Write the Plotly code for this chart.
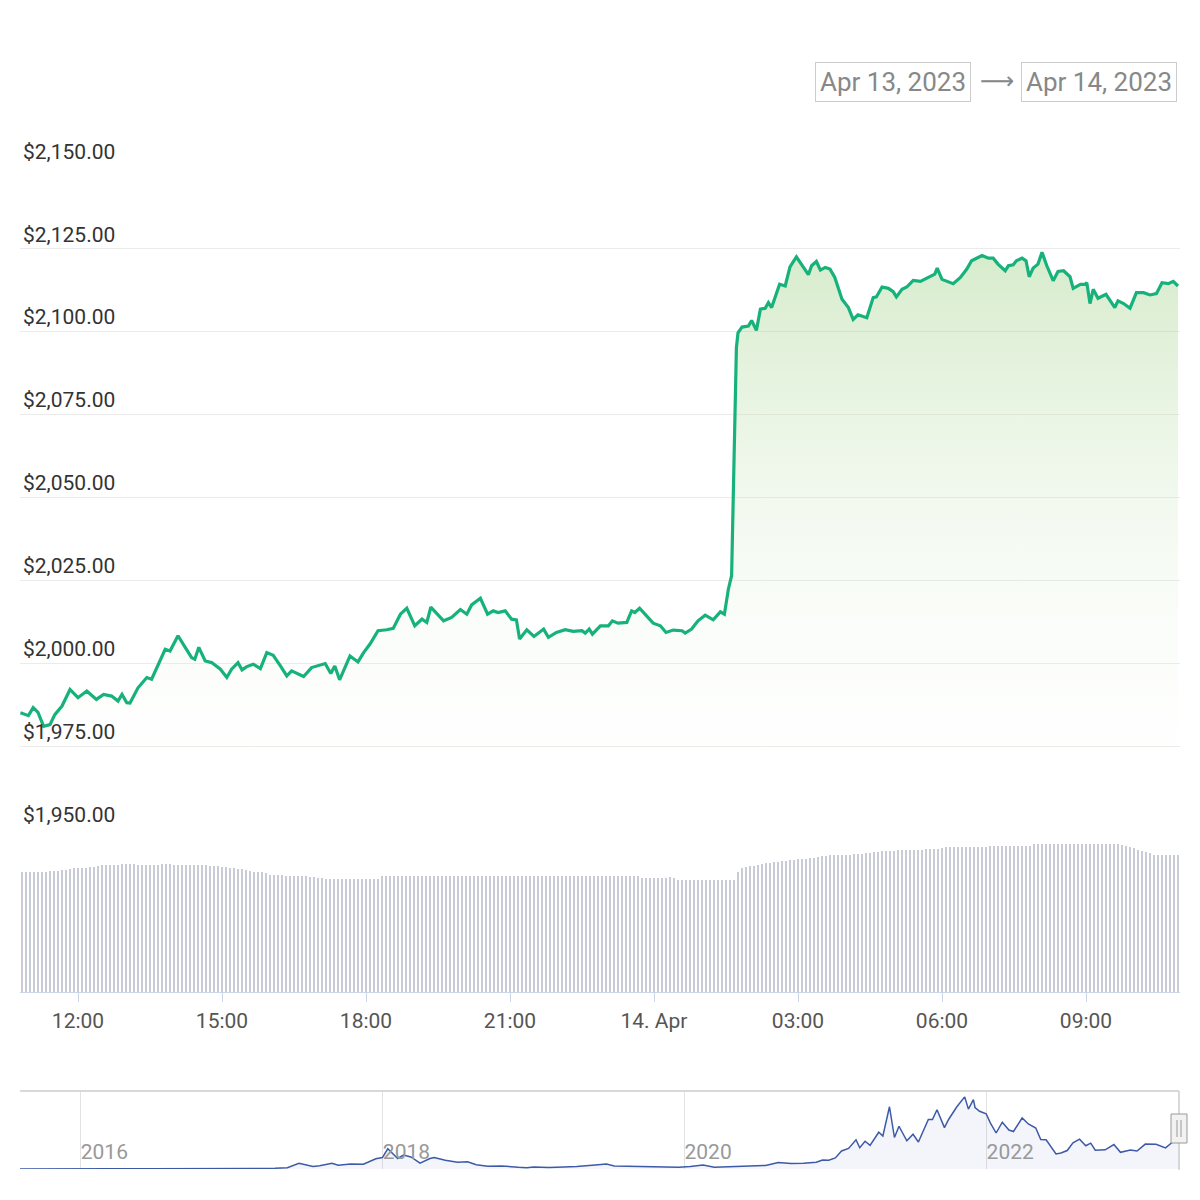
import pandas as pd
import plotly.graph_objects as go

# ---------------- data ----------------
times_apr13 = [
    "10:48", "10:58", "11:04", "11:10", "11:17", "11:25", "11:31", "11:40", "11:50", "12:00",
    "12:11", "12:23", "12:32", "12:42", "12:50", "12:55", "13:01", "13:05", "13:15", "13:26",
    "13:32", "13:40", "13:49", "13:55", "14:05", "14:14", "14:22", "14:26", "14:31", "14:39",
    "14:47", "14:58", "15:06", "15:12", "15:20", "15:25", "15:31", "15:39", "15:48", "15:56",
    "16:04", "16:13", "16:21", "16:27", "16:42", "16:52", "17:09", "17:16", "17:21", "17:27",
    "17:40", "17:50", "17:57", "18:05", "18:15", "18:26", "18:34", "18:43", "18:51", "19:01",
    "19:10", "19:16", "19:21", "19:37", "19:47", "19:58", "20:06", "20:12", "20:23", "20:32",
    "20:39", "20:45", "20:54", "21:02", "21:08", "21:12", "21:21", "21:30", "21:42", "21:48",
    "21:58", "22:09", "22:19", "22:30", "22:34", "22:39", "22:43", "22:53", "23:03", "23:08",
    "23:15", "23:26", "23:32", "23:36", "23:42", "23:51", "23:59",
]
prices_apr13 = [
    1985.1, 1984.2, 1986.6, 1985.2, 1981.0, 1981.5, 1984.5, 1987.1, 1992.1, 1989.6,
    1991.6, 1989.1, 1990.6, 1990.1, 1988.6, 1990.6, 1988.1, 1988.0, 1992.6, 1995.7,
    1995.2, 1999.7, 2004.2, 2003.7, 2008.3, 2004.8, 2001.7, 2001.2, 2004.8, 2000.7,
    2000.2, 1998.2, 1995.7, 1998.2, 2000.2, 1998.0, 1999.0, 1999.7, 1998.4, 2003.2,
    2002.4, 1999.2, 1996.2, 1997.7, 1996.0, 1998.7, 1999.9, 1996.9, 1999.2, 1995.0,
    2002.2, 2000.4, 2003.2, 2005.8, 2009.8, 2010.1, 2010.5, 2014.8, 2016.6, 2011.3,
    2013.3, 2012.3, 2016.9, 2012.8, 2013.8, 2016.2, 2014.8, 2017.6, 2019.6, 2014.8,
    2015.8, 2015.3, 2015.8, 2013.3, 2013.1, 2007.3, 2010.1, 2008.1, 2010.3, 2007.8,
    2009.3, 2010.1, 2009.6, 2009.8, 2009.1, 2010.3, 2008.8, 2011.3, 2011.3, 2012.8,
    2012.1, 2012.3, 2015.8, 2015.3, 2016.6, 2014.2, 2012.1,
]
times_apr14 = [
    "00:08", "00:15", "00:24", "00:35", "00:39", "00:47", "00:55", "01:04", "01:14", "01:23",
    "01:28", "01:33", "01:37", "01:43", "01:45", "01:50", "01:58", "02:02", "02:08", "02:13",
    "02:19", "02:23", "02:27", "02:37", "02:44", "02:50", "02:58", "03:05", "03:13", "03:17",
    "03:23", "03:28", "03:34", "03:40", "03:46", "03:55", "04:03", "04:09", "04:15", "04:26",
    "04:34", "04:38", "04:45", "04:53", "04:59", "05:03", "05:10", "05:16", "05:24", "05:33",
    "05:45", "05:51", "05:54", "06:00", "06:14", "06:23", "06:31", "06:37", "06:50", "06:58",
    "07:04", "07:10", "07:19", "07:23", "07:29", "07:33", "07:40", "07:45", "07:49", "07:54",
    "08:00", "08:05", "08:11", "08:19", "08:25", "08:32", "08:40", "08:44", "08:53", "08:59",
    "09:01", "09:05", "09:09", "09:15", "09:25", "09:29", "09:36", "09:40", "09:47", "09:55",
    "10:03", "10:12", "10:20", "10:28", "10:35", "10:43", "10:49", "10:55",
]
prices_apr14 = [
    2011.3, 2009.3, 2010.0, 2009.8, 2009.1, 2010.3, 2012.8, 2014.5, 2013.1, 2015.5,
    2014.8, 2022.4, 2026.4, 2095.2, 2099.7, 2101.4, 2101.7, 2103.4, 2100.4, 2106.8,
    2107.1, 2108.8, 2107.3, 2114.3, 2113.8, 2119.6, 2122.6, 2119.9, 2117.2, 2119.9,
    2121.2, 2118.6, 2119.4, 2118.9, 2116.4, 2109.8, 2107.3, 2103.7, 2105.1, 2104.2,
    2110.3, 2110.5, 2113.5, 2113.1, 2112.1, 2110.5, 2112.8, 2113.5, 2115.5, 2115.2,
    2116.6, 2117.4, 2119.2, 2115.8, 2114.5, 2116.4, 2118.9, 2121.4, 2123.0, 2122.2,
    2122.2, 2120.4, 2118.4, 2119.9, 2120.2, 2121.4, 2122.2, 2121.4, 2116.6, 2119.2,
    2120.4, 2124.0, 2119.9, 2115.4, 2118.2, 2118.4, 2116.6, 2113.1, 2114.3, 2114.3,
    2114.8, 2108.5, 2112.8, 2110.1, 2111.3, 2109.8, 2107.3, 2109.3, 2108.5, 2107.1,
    2111.8, 2111.8, 2111.1, 2111.5, 2114.8, 2114.5, 2115.2, 2113.8,
]

# 24h volume (billions USD), one bar per 5 minutes starting 10:50 Apr 13
volume_start = "2023-04-13 10:50"
volume_values = [
    12.0, 12.0, 12.0, 12.0, 12.0, 12.0, 12.0, 12.1, 12.1, 12.1,
    12.2, 12.2, 12.3, 12.4, 12.4, 12.4, 12.4, 12.5, 12.5, 12.6,
    12.7, 12.7, 12.7, 12.7, 12.7, 12.8, 12.8, 12.8, 12.8, 12.7,
    12.7, 12.7, 12.7, 12.7, 12.7, 12.8, 12.8, 12.8, 12.7, 12.7,
    12.7, 12.7, 12.7, 12.7, 12.7, 12.7, 12.7, 12.6, 12.6, 12.6,
    12.5, 12.5, 12.4, 12.4, 12.3, 12.3, 12.2, 12.1, 12.0, 12.0,
    12.0, 11.9, 11.7, 11.7, 11.7, 11.7, 11.6, 11.6, 11.6, 11.6,
    11.6, 11.6, 11.5, 11.5, 11.4, 11.4, 11.3, 11.3, 11.3, 11.3,
    11.3, 11.3, 11.3, 11.3, 11.3, 11.3, 11.3, 11.3, 11.3, 11.3,
    11.6, 11.6, 11.6, 11.6, 11.6, 11.6, 11.6, 11.6, 11.6, 11.6,
    11.6, 11.6, 11.6, 11.6, 11.6, 11.6, 11.6, 11.6, 11.6, 11.6,
    11.6, 11.6, 11.6, 11.6, 11.6, 11.6, 11.6, 11.6, 11.6, 11.6,
    11.6, 11.6, 11.6, 11.6, 11.6, 11.6, 11.6, 11.6, 11.6, 11.6,
    11.6, 11.6, 11.6, 11.6, 11.6, 11.6, 11.6, 11.6, 11.6, 11.6,
    11.6, 11.6, 11.6, 11.6, 11.6, 11.6, 11.6, 11.6, 11.6, 11.6,
    11.6, 11.6, 11.6, 11.6, 11.6, 11.4, 11.4, 11.4, 11.4, 11.4,
    11.4, 11.4, 11.5, 11.4, 11.2, 11.2, 11.2, 11.2, 11.2, 11.2,
    11.2, 11.2, 11.2, 11.2, 11.2, 11.2, 11.2, 11.2, 11.2, 12.0,
    12.4, 12.5, 12.6, 12.6, 12.7, 12.8, 12.9, 12.9, 13.0, 13.0,
    13.1, 13.1, 13.2, 13.2, 13.3, 13.3, 13.3, 13.4, 13.4, 13.5,
    13.6, 13.6, 13.7, 13.7, 13.7, 13.7, 13.7, 13.7, 13.8, 13.8,
    13.8, 13.9, 13.9, 14.0, 14.0, 14.1, 14.1, 14.1, 14.1, 14.2,
    14.2, 14.2, 14.2, 14.2, 14.2, 14.2, 14.3, 14.3, 14.3, 14.3,
    14.4, 14.5, 14.5, 14.5, 14.5, 14.5, 14.5, 14.5, 14.5, 14.5,
    14.5, 14.5, 14.6, 14.6, 14.6, 14.6, 14.6, 14.6, 14.6, 14.6,
    14.6, 14.6, 14.6, 14.8, 14.8, 14.8, 14.8, 14.8, 14.8, 14.8,
    14.8, 14.8, 14.8, 14.8, 14.8, 14.8, 14.8, 14.8, 14.8, 14.8,
    14.8, 14.8, 14.8, 14.8, 14.8, 14.7, 14.6, 14.5, 14.4, 14.2,
    14.1, 14.0, 13.9, 13.7, 13.7, 13.7, 13.7, 13.7, 13.7, 13.7,
]

# navigator: long-term price history
nav_dates = [
    "2015-08-07", "2015-08-15", "2015-10-01", "2016-01-01", "2016-03-15", "2016-06-15",
    "2016-09-01", "2016-12-01", "2017-02-01", "2017-03-15", "2017-04-15", "2017-05-15",
    "2017-06-12", "2017-07-16", "2017-08-01", "2017-08-31", "2017-09-15", "2017-10-15",
    "2017-11-15", "2017-12-15", "2017-12-31", "2018-01-13", "2018-02-06", "2018-02-20",
    "2018-03-10", "2018-04-01", "2018-04-25", "2018-05-05", "2018-06-01", "2018-07-01",
    "2018-07-25", "2018-08-15", "2018-09-12", "2018-10-15", "2018-11-25", "2018-12-15",
    "2019-01-01", "2019-02-07", "2019-03-15", "2019-04-15", "2019-05-30", "2019-06-26",
    "2019-07-15", "2019-08-15", "2019-09-15", "2019-10-15", "2019-11-25", "2019-12-18",
    "2020-01-15", "2020-02-15", "2020-03-13", "2020-04-15", "2020-05-15", "2020-06-15",
    "2020-07-15", "2020-08-15", "2020-09-15", "2020-10-15", "2020-11-15", "2020-11-30",
    "2020-12-15", "2020-12-31", "2021-01-15", "2021-02-01", "2021-02-19", "2021-02-28",
    "2021-03-13", "2021-03-25", "2021-04-15", "2021-04-25", "2021-05-11", "2021-05-23",
    "2021-06-03", "2021-06-22", "2021-07-07", "2021-07-20", "2021-08-13", "2021-08-23",
    "2021-09-03", "2021-09-21", "2021-10-01", "2021-10-21", "2021-11-09", "2021-11-18",
    "2021-11-30", "2021-12-04", "2021-12-15", "2021-12-31", "2022-01-10", "2022-01-24",
    "2022-02-08", "2022-02-24", "2022-03-07", "2022-03-28", "2022-04-12", "2022-04-30",
    "2022-05-12", "2022-05-25", "2022-06-18", "2022-06-30", "2022-07-15", "2022-07-29",
    "2022-08-14", "2022-08-29", "2022-09-10", "2022-09-21", "2022-10-15", "2022-11-05",
    "2022-11-21", "2022-12-15", "2022-12-31", "2023-01-20", "2023-02-15", "2023-03-10",
    "2023-03-25", "2023-04-14",
]
nav_prices = [
    2.8, 1.5, 0.7, 0.95, 12, 18,
    12, 8, 11, 30, 50, 90,
    380, 160, 220, 385, 250, 330,
    320, 680, 760, 1350, 700, 930,
    800, 390, 700, 760, 580, 450,
    480, 280, 190, 205, 115, 88,
    135, 105, 135, 165, 270, 330,
    200, 185, 195, 180, 145, 120,
    165, 270, 110, 155, 200, 230,
    240, 430, 370, 380, 450, 600,
    590, 740, 1200, 1370, 1950, 1420,
    1850, 1580, 2450, 2200, 4150, 2100,
    2850, 1880, 2320, 1800, 3300, 3300,
    3950, 2760, 3300, 4150, 4810, 3990,
    4630, 4100, 3850, 3680, 3080, 2400,
    3120, 2600, 2500, 3400, 3000, 2730,
    1960, 1950, 1000, 1070, 1230, 1740,
    1990, 1550, 1720, 1250, 1280, 1630,
    1110, 1270, 1200, 1660, 1650, 1410,
    1750, 2100,
]

axis_tick_times = ["2023-04-13 12:00", "2023-04-13 15:00", "2023-04-13 18:00",
                   "2023-04-13 21:00", "2023-04-14 00:00", "2023-04-14 03:00",
                   "2023-04-14 06:00", "2023-04-14 09:00"]
axis_tick_labels = ["12:00", "15:00", "18:00", "21:00", "14. Apr", "03:00", "06:00", "09:00"]
nav_tick_dates = ["2016-01-01", "2018-01-01", "2020-01-01", "2022-01-01"]
nav_tick_labels = ["2016", "2018", "2020", "2022"]
range_from_label = "Apr 13, 2023"
range_to_label = "Apr 14, 2023"

# ---------------- build ----------------
price_x = [pd.Timestamp("2023-04-13 " + t) for t in times_apr13] + \
          [pd.Timestamp("2023-04-14 " + t) for t in times_apr14]
price_y = prices_apr13 + prices_apr14
vol_x = pd.date_range(volume_start, periods=len(volume_values), freq="5min")

FONT = "Roboto, 'Noto Sans', sans-serif"
# the page body adds an 8px offset; the figure is sized so the plot lands on
# window pixels 20..1180 horizontally
FIG = 1192
OFF = 8
def py(px):  # window pixel row -> paper fraction (t=b=0)
    return (FIG - (px - OFF)) / FIG
def pxx(px):  # window pixel column -> paper fraction (plot area 20..1180)
    return (px - 20) / 1160.0

fig = go.Figure()

fig.add_trace(go.Bar(
    x=vol_x, y=volume_values, xaxis="x2", yaxis="y2",
    marker=dict(color="#c9cbd6", line=dict(width=0)),
    hoverinfo="skip", showlegend=False,
))

fig.add_trace(go.Scatter(
    x=price_x, y=price_y, xaxis="x", yaxis="y", mode="lines",
    line=dict(color="#17b27b", width=3.2),
    fill="tozeroy",
    fillgradient=dict(type="vertical", start=1950, stop=2125,
                      colorscale=[[0, "rgba(255,255,255,0)"],
                                  [1, "rgba(140,200,110,0.36)"]]),
    showlegend=False,
))

fig.add_trace(go.Scatter(
    x=pd.to_datetime(nav_dates), y=nav_prices, xaxis="x3", yaxis="y3",
    mode="lines", line=dict(color="#3d5aa8", width=1.5),
    fill="tozeroy", fillcolor="rgba(51,92,173,0.06)",
    hoverinfo="skip", showlegend=False,
))

x_range = ["2023-04-13 10:47:30", "2023-04-14 10:57:30"]

fig.update_layout(
    width=FIG, height=FIG,
    margin=dict(l=12, r=20, t=0, b=0, autoexpand=False),
    paper_bgcolor="white", plot_bgcolor="white",
    font=dict(family=FONT, color="#333"),
    bargap=0.5,
    xaxis=dict(domain=[0, 1], anchor="y", range=x_range, showticklabels=False,
               showgrid=False, zeroline=False, ticks="", automargin=False),
    xaxis2=dict(domain=[0, 1], anchor="y2", matches="x", range=x_range,
                tickvals=pd.to_datetime(axis_tick_times), ticktext=axis_tick_labels,
                ticks="outside", ticklen=9, tickcolor="#ccd6eb", tickwidth=1,
                showline=True, linecolor="#ccd6eb", linewidth=1,
                showgrid=False, zeroline=False, ticklabelstandoff=1,
                automargin=False, tickfont=dict(size=21, color="#555")),
    yaxis=dict(domain=[py(829), py(165)], range=[1950, 2150.3], tick0=1950, dtick=25,
               tickformat="$,.2f", ticklabelposition="inside top",
               ticklabeloverflow="allow", ticks="", showline=False, zeroline=False,
               gridcolor="#ebebeb", gridwidth=1, automargin=False,
               tickfont=dict(size=21, color="#333")),
    yaxis2=dict(domain=[py(992), py(840)], range=[0, 15.2], visible=False,
                automargin=False),
    xaxis3=dict(domain=[0, 1], anchor="y3", type="date",
                range=["2015-08-07", "2023-04-14"],
                tickvals=pd.to_datetime(nav_tick_dates), ticktext=nav_tick_labels,
                ticklabelposition="inside right", ticks="", showgrid=True,
                gridcolor="#e3e3e3", showline=False, zeroline=False,
                automargin=False, tickfont=dict(size=21, color="#999")),
    yaxis3=dict(domain=[py(1169), py(1091)], range=[0, 5200], visible=False,
                automargin=False),
)

shapes = [
    dict(type="line", xref="paper", yref="paper", x0=0, x1=pxx(1179),
         y0=py(1091), y1=py(1091), line=dict(color="#cccccc", width=1.5)),
    dict(type="line", xref="paper", yref="paper", x0=pxx(1179), x1=pxx(1179),
         y0=py(1091), y1=py(1170), line=dict(color="#cccccc", width=1.5)),
    dict(type="rect", xref="paper", yref="paper", x0=pxx(1171), x1=pxx(1187),
         y0=py(1143), y1=py(1114), fillcolor="#f2f2f2",
         line=dict(color="#999999", width=1)),
    dict(type="line", xref="paper", yref="paper", x0=pxx(1177), x1=pxx(1177),
         y0=py(1120), y1=py(1137), line=dict(color="#999999", width=1)),
    dict(type="line", xref="paper", yref="paper", x0=pxx(1181), x1=pxx(1181),
         y0=py(1120), y1=py(1137), line=dict(color="#999999", width=1)),
]
fig.update_layout(shapes=shapes)

box_common = dict(xref="paper", yref="paper", showarrow=False,
                  xanchor="center", yanchor="middle",
                  font=dict(size=26, color="#888", family=FONT),
                  bordercolor="#cccccc", borderwidth=1, borderpad=1,
                  bgcolor="white", width=152, height=36)
fig.add_annotation(x=pxx(893), y=py(82), text=range_from_label, **box_common)
fig.add_annotation(x=pxx(1098.5), y=py(82), text=range_to_label, **box_common)
fig.add_annotation(x=pxx(997), y=py(81), xref="paper", yref="paper", showarrow=False,
                   xanchor="center", yanchor="middle",
                   text="⟶", font=dict(size=24, color="#888", family="DejaVu Sans"))

fig.write_html("out.html")
